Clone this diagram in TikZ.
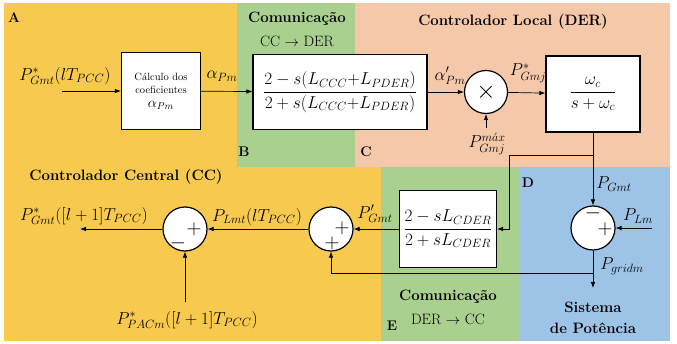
\documentclass[tikz,border=0pt]{standalone}
\usepackage{amsmath,amssymb}
\usepackage{xcolor}
\usepackage{tikz}
\usetikzlibrary{arrows.meta, positioning}
\definecolor{ccyel}{HTML}{F7C94F}
\definecolor{comgrn}{HTML}{A9D08E}
\definecolor{derorg}{HTML}{F6C8AA}
\definecolor{sysblu}{HTML}{9DC3E6}

\begin{document}
\begin{tikzpicture}[x=1pt,y=-1pt,
  blk/.style={draw, line width=1.2pt, fill=white, inner sep=2pt},
  sumc/.style={circle, draw, line width=1.2pt, fill=white, minimum size=44pt, inner sep=0pt},
  sig/.style={-{Latex[length=6pt,width=4.5pt]}, line width=0.7pt},
  mlab/.style={font=\fontsize{17}{19}\selectfont},
  ttl/.style={font=\fontsize{15}{17}\selectfont\bfseries},
  zone/.style={font=\fontsize{14}{16}\selectfont\bfseries}]
\useasboundingbox (0,0) rectangle (677,344);
% Regions: CC (A), com. CC->DER (B), local DER (C), system (D), com. DER->CC (E)
\foreach \c/\xa/\ya/\xb/\yb in {ccyel/4/3/237/167, comgrn/237/3/355/167, derorg/355/3/670/167,
  ccyel/4/167/381/341, comgrn/381/167/519/341, sysblu/519/167/670/341}
  \fill[\c] (\xa,\ya) rectangle (\xb,\yb);
\foreach \t/\x/\y in {A/14/18, B/244/152, C/366/152, D/528/183, E/392/326}
  \node[zone] (zone\t) at (\x,\y) {\t};
% Titles
\node[ttl] (comA) at (297,19) {Comunicação};
\node[font=\fontsize{15}{17}\selectfont] (comAdir) at (297,41) {CC $\rightarrow$ DER};
\node[ttl] (ttlDER) at (513,22) {Controlador Local (DER)};
\node[ttl] (ttlCC) at (126,177) {Controlador Central (CC)};
\node[ttl] (comB) at (448,297) {Comunicação};
\node[font=\fontsize{15}{17}\selectfont] (comBdir) at (448,319) {DER $\rightarrow$ CC};
\node[ttl] (sysA) at (593,307) {Sistema};
\node[ttl] (sysB) at (593,328) {de Potência};
% Blocks
\node[blk, minimum width=79pt, minimum height=77pt, align=center,
  font=\fontsize{10.5}{13}\selectfont] (calc) at (161,91)
  {Cálculo dos\\coeficientes\\[1pt]{\fontsize{14}{14}\selectfont$\alpha_{Pm}$}};
\node[blk, minimum width=174pt, minimum height=75pt, mlab] (delB) at (340,92)
  {$\dfrac{2-s(L_{CCC}{+}L_{PDER})}{2+s(L_{CCC}{+}L_{PDER})}$};
\node[sumc, minimum size=43pt] (mult) at (486,92) {\fontsize{24}{24}\selectfont$\times$};
\node[blk, minimum width=94pt, minimum height=76pt, mlab] (filt) at (593,94) {$\dfrac{\omega_c}{s+\omega_c}$};
\node[sumc] (sumD) at (593,228) {};
\node[blk, minimum width=97pt, minimum height=77pt, mlab] (delE) at (448,229)
  {$\dfrac{2-sL_{CDER}}{2+sL_{CDER}}$};
\node[sumc] (sumE) at (331,229) {};
\node[sumc] (sumCC) at (185,229) {};
% Signs
\foreach \s/\x/\y [count=\k] in {+/194/229, -/178/243, +/342/228, +/332/243, -/593/213, +/605/229}
  \node[font=\fontsize{20}{20}\selectfont, inner sep=0pt] (sg\k) at (\x,\y) {$\s$};
% Signal paths
\coordinate (pin) at (62,91);
\coordinate (pmax) at (486,128);
\coordinate (brA) at (593,155);
\coordinate (brB) at (509,155);
\coordinate (pLm) at (652,228);
\coordinate (pout) at (593,288);
\coordinate (brC) at (593,273);
\coordinate (pcc) at (80,229);
\coordinate (ppac) at (185,302);
\draw[sig] (pin) -- (calc);
\draw[sig] (calc) -- (delB);
\draw[sig] (delB) -- (mult);
\draw[sig] (mult) -- (filt);
\draw[sig] (pmax) -- (mult);
\draw[sig] (filt) -- (sumD);
\draw[sig] (brA) -- (brB) |- (delE);
\draw[sig] (pLm) -- (sumD);
\draw[sig] (sumD) -- (pout);
\draw[sig] (brC) -| (sumE);
\draw[sig] (delE) -- (sumE);
\draw[sig] (sumE) -- (sumCC);
\draw[sig] (sumCC) -- (pcc);
\draw[sig] (ppac) -- (sumCC);
% Labels
\node[mlab] (lPin) at (65,76) {$P^*_{Gmt}(lT_{PCC})$};
\node[mlab] (lAlpha) at (222,76) {$\alpha_{Pm}$};
\node[mlab] (lAlphaB) at (450,76) {$\alpha'_{Pm}$};
\node[mlab] (lPGmj) at (528,73) {$P^*_{Gmj}$};
\node[mlab, inner sep=1pt] (lPmax) at (487,144) {$P_{Gmj}^{m\acute{a}x}$};
\node[mlab] (lPGmt) at (614,184) {$P_{Gmt}$};
\node[mlab] (lPLm) at (638,216) {$P_{Lm}$};
\node[mlab] (lPgrid) at (622,266) {$P_{gridm}$};
\node[mlab] (lPGmtB) at (375,214) {$P'_{Gmt}$};
\node[mlab] (lPLmt) at (257,217) {$P_{Lmt}(lT_{PCC})$};
\node[mlab] (lPout) at (84,216) {$P^*_{Gmt}([l+1]T_{PCC})$};
\node[mlab] (lPpac) at (187,320) {$P^*_{PACm}([l+1]T_{PCC})$};
\end{tikzpicture}
\end{document}
